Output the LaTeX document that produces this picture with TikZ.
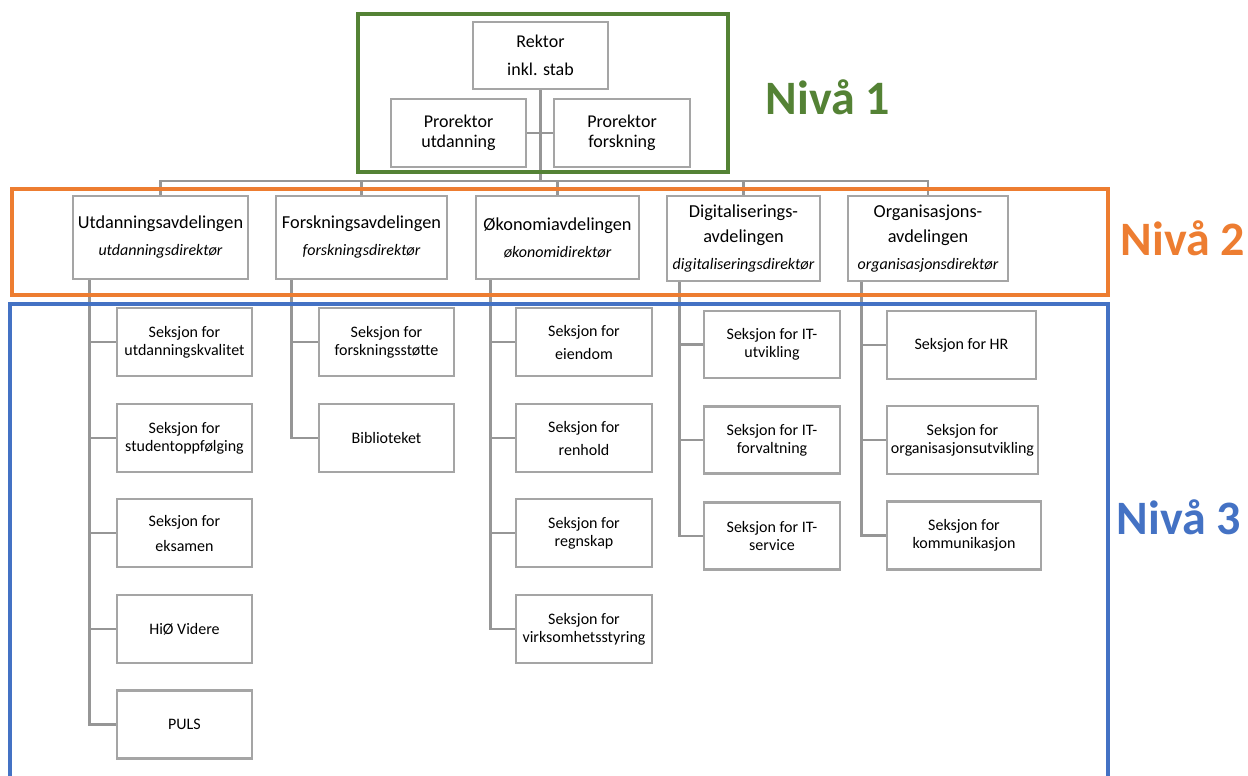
\documentclass[tikz,border=0pt]{standalone}
\usepackage{fontspec}
\setmainfont{Carlito}
\usetikzlibrary{calc}
\definecolor{boxgray}{HTML}{A5A5A5}
\definecolor{linegray}{HTML}{969696}
\definecolor{nivgreen}{HTML}{548235}
\definecolor{nivorange}{HTML}{ED7D31}
\definecolor{nivblue}{HTML}{4472C4}
\newcommand{\dirf}{\fontsize{16}{18}\selectfont\itshape}
\begin{document}
\begin{tikzpicture}[x=1pt,y=-1pt,
  box/.style={draw=boxgray, line width=2.6pt, fill=white, inner sep=0pt, align=center,
    font=\fontsize{16}{18}\selectfont},
  secbox/.style={box, minimum width=135, minimum height=68},
  topbox/.style={box, minimum height=68, font=\fontsize{18}{20}\selectfont},
  depbox/.style={box, font=\fontsize{18.3}{25}\selectfont},
  conn/.style={draw=linegray, line width=2.6pt},
  frame/.style={line width=3.2pt},
  niv/.style={font=\fontsize{48}{52}\selectfont\bfseries, inner sep=0pt}]
\useasboundingbox (0,0) rectangle (1248,776);
\clip (0,0) rectangle (1248,776);

% Level 1
\node[topbox, minimum width=135, minimum height=67] (rek) at (540.5,55.5) {Rektor\\[8pt]inkl. stab};
\node[topbox, minimum width=135] (pu) at (458.5,133) {Prorektor\\utdanning};
\node[topbox, minimum width=136] (pf) at (622,133) {Prorektor\\forskning};

% Level 2
\node[depbox, minimum width=175, minimum height=83] (ua) at (160.5,237.5) {Utdanningsavdelingen\\[2pt]{\dirf utdanningsdirektør}};
\node[depbox, minimum width=171, minimum height=83] (fa) at (361.5,237.5) {Forskningsavdelingen\\[2pt]{\dirf forskningsdirektør}};
\node[depbox, minimum width=163, minimum height=83] (oa) at (557.5,237.5) {Økonomiavdelingen\\[2pt]{\dirf økonomidirektør}};
\node[depbox, minimum width=153, minimum height=85] (da) at (743.5,238.5) {Digitaliserings-\\avdelingen\\[2pt]{\dirf digitaliseringsdirektør}};
\node[depbox, minimum width=160, minimum height=85] (ga) at (928,238.5) {Organisasjons-\\avdelingen\\[2pt]{\dirf organisasjonsdirektør}};

% Level 3 - Utdanning
\node[secbox] (u1) at (184.5,342) {Seksjon for\\utdanningskvalitet};
\node[secbox] (u2) at (184.5,438) {Seksjon for\\studentoppfølging};
\node[secbox, font=\fontsize{16}{25}\selectfont] (u3) at (184.5,533) {Seksjon for\\eksamen};
\node[secbox] (u4) at (184.5,629) {HiØ Videre};
\node[secbox] (u5) at (184.5,724.5) {PULS};
% Forskning
\node[secbox] (f1) at (386.5,342) {Seksjon for\\forskningsstøtte};
\node[secbox] (f2) at (386.5,438) {Biblioteket};
% Økonomi
\node[secbox, minimum width=136, font=\fontsize{16}{23}\selectfont] (o1) at (584,342) {Seksjon for\\eiendom};
\node[secbox, minimum width=136, font=\fontsize{16}{23}\selectfont] (o2) at (584,438) {Seksjon for\\renhold};
\node[secbox, minimum width=136] (o3) at (584,533) {Seksjon for\\regnskap};
\node[secbox, minimum width=136] (o4) at (584,629) {Seksjon for\\virksomhetsstyring};
% Digitalisering
\node[secbox, minimum width=136, minimum height=67] (d1) at (772,344.5) {Seksjon for IT-\\utvikling};
\node[secbox, minimum width=136, minimum height=67] (d2) at (772,440) {Seksjon for IT-\\forvaltning};
\node[secbox, minimum width=136, minimum height=67] (d3) at (772,536) {Seksjon for IT-\\service};
% Organisasjon
\node[secbox, minimum width=149] (g1) at (961.5,345) {Seksjon for HR};
\node[secbox, minimum width=151] (g2) at (962.5,440) {Seksjon for\\organisasjonsutvikling};
\node[secbox, minimum width=154] (g3) at (964,535.5) {Seksjon for\\kommunikasjon};

% Connectors level 1 -> 2
\coordinate (bus) at (541,181);
\draw[conn] (rek.south) -- (rek.south |- bus);
\draw[conn] (pu.east) -- (pf.west);
\draw[conn] (ua.north) |- (ga.north |- bus) -- (ga.north);
\foreach \n in {fa,oa,da} \draw[conn] (\n.north) -- (\n.north |- bus);

% Connectors level 2 -> 3
\coordinate (ut) at ([xshift=18pt]ua.south west);
\coordinate (ft) at ([xshift=17pt]fa.south west);
\coordinate (ot) at ([xshift=16pt]oa.south west);
\coordinate (dt) at ([xshift=14pt]da.south west);
\coordinate (gt) at ([xshift=15pt]ga.south west);
\draw[conn] (ut) |- (u5.west);
\foreach \n in {u1,u2,u3,u4} \draw[conn] (\n.west) -- (\n.west -| ut);
\draw[conn] (ft) |- (f2.west);
\draw[conn] (f1.west) -- (f1.west -| ft);
\draw[conn] (ot) |- (o4.west);
\foreach \n in {o1,o2,o3} \draw[conn] (\n.west) -- (\n.west -| ot);
\draw[conn] (dt) |- (d3.west);
\foreach \n in {d1,d2} \draw[conn] (\n.west) -- (\n.west -| dt);
\draw[conn] (gt) |- (g3.west);
\foreach \n in {g1,g2} \draw[conn] (\n.west) -- (\n.west -| gt);

% Frames
\draw[frame, draw=nivgreen] (358,14) rectangle (728,172);
\draw[frame, draw=nivorange] (12,189) rectangle (1108,295);
\draw[frame, draw=nivblue] (10,304) rectangle (1108,800);

% Level labels
\node[niv, text=nivgreen] (n1) at (828,97) {Nivå 1};
\node[niv, text=nivorange] (n2) at (1183,238) {Nivå 2};
\node[niv, text=nivblue] (n3) at (1179,517) {Nivå 3};
\end{tikzpicture}
\end{document}
